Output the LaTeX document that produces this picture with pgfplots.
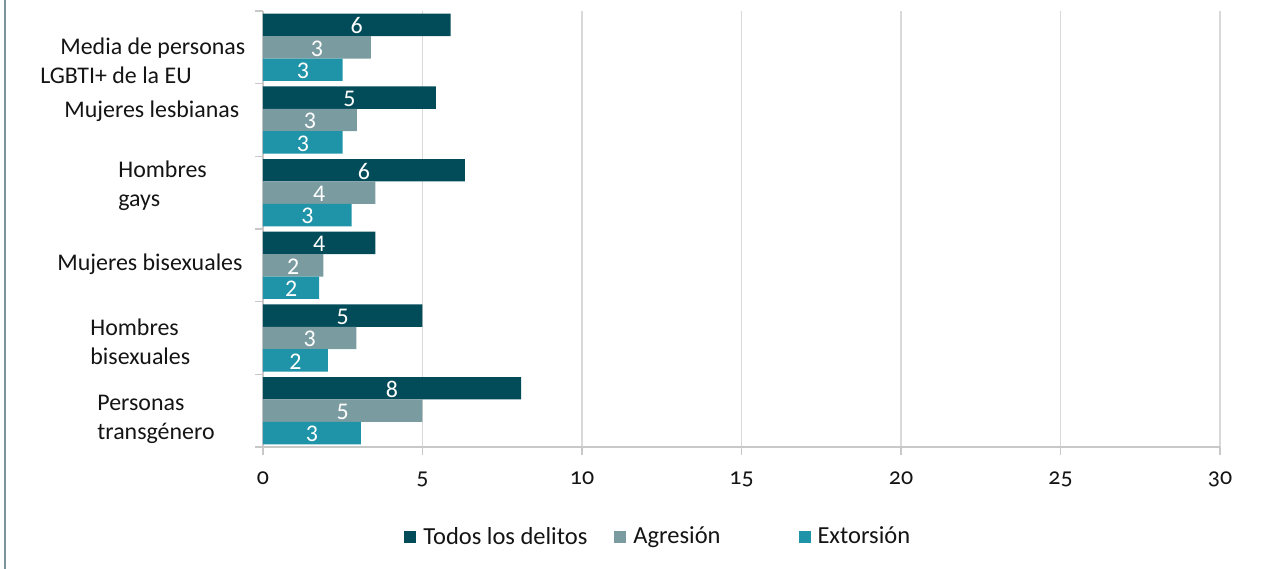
\documentclass[border=0pt]{standalone}
\usepackage{pgfplots}
\pgfplotsset{compat=1.18}
\usepackage{pgfplotstable}
\usepackage{fontspec}
\setmainfont{Carlito}
\newfontfamily\tickfont[Numbers=OldStyle]{Carlito}
\definecolor{cDark}{RGB}{2,76,89}
\definecolor{cGrey}{RGB}{122,156,161}
\definecolor{cTeal}{RGB}{31,148,168}
\definecolor{axisgrey}{RGB}{200,200,200}
\definecolor{gridgrey}{RGB}{217,217,217}
\definecolor{framecol}{RGB}{125,148,158}
\definecolor{txt}{RGB}{20,20,20}

\pgfplotstableread{
y x lab
0 5.88 6
1 5.42 5
2 6.33 6
3 3.52 4
4 5.00 5
5 8.09 8
}\todos
\pgfplotstableread{
y x lab
0 3.38 3
1 2.94 3
2 3.52 4
3 1.89 2
4 2.93 3
5 5.00 5
}\agresion
\pgfplotstableread{
y x lab
0 2.50 3
1 2.50 3
2 2.78 3
3 1.76 2
4 2.03 2
5 3.07 3
}\extorsion

\begin{document}
\begin{tikzpicture}
\useasboundingbox (-131.5bp,-61bp) rectangle (506bp,223.5bp);
\begin{axis}[
  at={(0,0)}, anchor=south west, scale only axis,
  width=478.5bp, height=218bp,
  xbar, bar width=11.2bp,
  xmin=0, xmax=30, ymin=-0.5, ymax=5.5, y dir=reverse,
  axis x line*=bottom, axis y line*=left,
  axis line style={-, draw=axisgrey, line width=0.7bp},
  xtick={0,5,...,30},
  xmajorgrids, grid style={draw=gridgrey, line width=0.7bp},
  tick align=outside, major tick length=4bp,
  tick style={draw=axisgrey, line width=0.7bp},
  /pgf/number format/assume math mode=true,
  xticklabel style={font=\tickfont\fontsize{12}{14}\selectfont, text=txt, anchor=base, yshift=-14.5bp, inner sep=0pt},
  ytick={-0.5,0.5,...,5.5}, yticklabels={},
  extra y ticks={0.185,0.879,1.904,2.983,4.056,5.115},
  extra y tick labels={
    {\hspace*{10bp}Media de personas\\LGBTI+ de la EU},
    {\hspace*{12bp}Mujeres lesbianas},
    {\hspace*{39bp}Hombres\\\hspace*{39bp}gays},
    {\hspace*{8.5bp}Mujeres bisexuales},
    {\hspace*{25bp}Hombres\\\hspace*{25bp}bisexuales},
    {\hspace*{28.5bp}Personas\\\hspace*{28.5bp}transgénero}},
  extra y tick style={major tick length=0pt, yticklabel style={anchor=west, align=left, inner sep=0pt, xshift=-111.5bp, font=\fontsize{12}{14.5}\selectfont, text=txt}},
  nodes near coords, point meta=explicit symbolic,
  visualization depends on={rawx \as \rawx},
  nodes near coords style={font=\fontsize{12}{13}\selectfont, text=white, anchor=center, inner sep=0pt, xshift={-7.975bp*\rawx}, yshift=-0.5bp},
  legend style={at={(0.1473,-0.2064)}, anchor=west, draw=none, fill=none,
    font=\fontsize{12.3}{14}\selectfont, text=txt, inner sep=0pt,
    /tikz/every even column/.append style={column sep=11.5bp},
    /tikz/every odd column/.append style={column sep=1.5bp}},
  legend columns=3,
  sq/.style={legend image code/.code={\fill[##1] (0bp,-3bp) rectangle (6bp,3bp);}},
]
\addplot[fill=cDark, draw=none, bar shift=11.2bp, sq] table[x=x, y=y, meta=lab] {\todos};
\addplot[fill=cGrey, draw=none, bar shift=0bp, sq] table[x=x, y=y, meta=lab] {\agresion};
\addplot[fill=cTeal, draw=none, bar shift=-11.2bp, sq] table[x=x, y=y, meta=lab] {\extorsion};
\legend{Todos los delitos, Agresión\hspace*{25.5bp}, Extorsión}
\end{axis}
\draw[framecol, line width=1bp] (-129bp,-61bp) -- (-129bp,223.5bp);
\end{tikzpicture}
\end{document}
